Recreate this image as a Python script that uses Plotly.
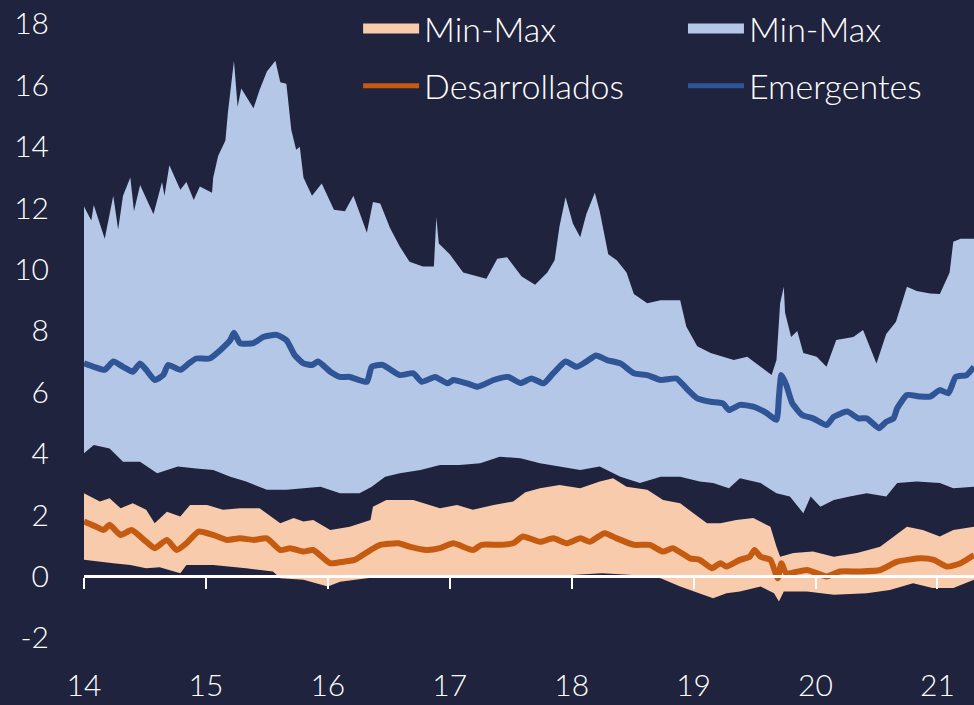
import plotly.graph_objects as go

# ---------------- data ----------------
em_max_x = [14.00, 14.06, 14.08, 14.17, 14.24, 14.28, 14.32, 14.38, 14.41, 14.46, 14.57, 14.64, 14.66, 14.70,
            14.79, 14.84, 14.90, 14.95, 15.05, 15.06, 15.10, 15.16, 15.18, 15.23, 15.26, 15.29, 15.39, 15.44,
            15.50, 15.57, 15.61, 15.66, 15.70, 15.74, 15.77, 15.80, 15.87, 15.95, 16.05, 16.14, 16.21, 16.32,
            16.37, 16.43, 16.51, 16.59, 16.67, 16.78, 16.87, 16.89, 16.91, 17.00, 17.11, 17.22, 17.30, 17.39,
            17.47, 17.59, 17.70, 17.80, 17.86, 17.90, 17.95, 18.01, 18.07, 18.12, 18.19, 18.23, 18.30, 18.37,
            18.45, 18.51, 18.62, 18.73, 18.89, 18.94, 19.03, 19.14, 19.33, 19.44, 19.55, 19.64, 19.68, 19.71,
            19.74, 19.75, 19.80, 19.85, 19.90, 20.01, 20.09, 20.17, 20.31, 20.39, 20.50, 20.58, 20.66, 20.75,
            20.83, 20.94, 21.02, 21.10, 21.13, 21.19, 21.30]
em_max_y = [12.05, 11.6, 12.1, 11.0, 12.4, 11.3, 12.4, 13.0, 11.9, 12.75, 11.8, 12.85, 12.4, 13.4,
            12.6, 12.85, 12.26, 12.7, 12.5, 13.0, 13.7, 14.2, 15.1, 16.8, 15.3, 15.9, 15.25, 15.85,
            16.45, 16.8, 16.1, 16.05, 14.55, 13.9, 14.0, 13.0, 12.4, 12.8, 11.95, 11.9, 12.4, 11.2,
            12.2, 12.15, 11.35, 10.75, 10.25, 10.1, 10.1, 11.7, 10.85, 10.5, 9.9, 9.77, 9.7, 10.35,
            10.4, 9.77, 9.5, 9.9, 10.3, 11.4, 12.35, 11.5, 11.05, 11.8, 12.5, 11.9, 10.5, 10.3,
            9.9, 9.2, 8.9, 9.0, 9.0, 8.14, 7.5, 7.28, 7.05, 7.16, 6.83, 6.56, 7.05, 8.9,
            9.44, 8.6, 7.8, 8.0, 7.28, 7.16, 6.83, 7.7, 7.8, 8.03, 6.94, 7.9, 8.3, 9.44,
            9.3, 9.22, 9.2, 9.9, 10.9, 11.0, 11.0]

em_min_x = [14.00, 14.08, 14.21, 14.32, 14.46, 14.60, 14.77, 14.92, 15.06, 15.20, 15.33, 15.50, 15.66, 15.80,
            15.94, 16.10, 16.26, 16.36, 16.47, 16.59, 16.76, 16.92, 17.08, 17.25, 17.41, 17.58, 17.74, 17.90,
            18.07, 18.23, 18.40, 18.56, 18.73, 18.89, 19.05, 19.16, 19.29, 19.38, 19.55, 19.68, 19.79, 19.90,
            19.96, 20.04, 20.15, 20.28, 20.42, 20.58, 20.67, 20.83, 21.02, 21.13, 21.30]
em_min_y = [4.01, 4.28, 4.17, 3.74, 3.74, 3.36, 3.58, 3.52, 3.47, 3.25, 3.09, 2.82, 2.82, 2.87,
            2.92, 2.71, 2.71, 2.92, 3.25, 3.36, 3.47, 3.63, 3.63, 3.69, 3.9, 3.85, 3.69, 3.58,
            3.47, 3.58, 3.25, 3.04, 3.25, 3.25, 3.09, 3.04, 2.87, 3.2, 3.04, 2.71, 2.6, 2.06,
            2.6, 2.27, 2.49, 2.6, 2.71, 2.6, 3.04, 3.09, 3.04, 2.87, 2.92]

em_x = [14.00, 14.08, 14.17, 14.24, 14.32, 14.40, 14.46, 14.51, 14.58, 14.65, 14.69, 14.79, 14.86, 14.92,
        15.03, 15.12, 15.20, 15.23, 15.28, 15.39, 15.47, 15.58, 15.66, 15.73, 15.80, 15.87, 15.92, 16.02,
        16.10, 16.18, 16.32, 16.36, 16.45, 16.59, 16.70, 16.77, 16.88, 16.98, 17.03, 17.14, 17.23, 17.36,
        17.48, 17.58, 17.67, 17.77, 17.85, 17.95, 18.04, 18.12, 18.20, 18.29, 18.40, 18.51, 18.62, 18.73,
        18.86, 18.94, 19.03, 19.14, 19.24, 19.29, 19.38, 19.49, 19.60, 19.68, 19.70, 19.72, 19.76, 19.81,
        19.89, 19.98, 20.09, 20.15, 20.26, 20.35, 20.42, 20.52, 20.58, 20.64, 20.67, 20.75, 20.86, 20.94,
        21.02, 21.09, 21.15, 21.24, 21.30]
em_y = [6.94, 6.83, 6.73, 7.0, 6.83, 6.67, 6.94, 6.73, 6.4, 6.56, 6.89, 6.73, 6.94, 7.1,
        7.1, 7.38, 7.7, 7.94, 7.6, 7.6, 7.8, 7.87, 7.7, 7.2, 6.94, 6.89, 7.0, 6.67,
        6.5, 6.5, 6.34, 6.83, 6.89, 6.56, 6.62, 6.34, 6.5, 6.29, 6.4, 6.29, 6.18, 6.4,
        6.5, 6.3, 6.45, 6.29, 6.62, 7.0, 6.83, 7.0, 7.2, 7.05, 6.94, 6.62, 6.56, 6.4,
        6.45, 6.13, 5.8, 5.69, 5.64, 5.42, 5.59, 5.53, 5.32, 5.1, 5.86, 6.56, 6.24, 5.64,
        5.26, 5.15, 4.93, 5.2, 5.37, 5.15, 5.15, 4.83, 5.04, 5.15, 5.48, 5.91, 5.86, 5.86,
        6.07, 5.97, 6.5, 6.56, 6.83]

dm_max_x = [14.00, 14.13, 14.21, 14.30, 14.40, 14.51, 14.58, 14.68, 14.79, 14.87, 15.01, 15.14, 15.28, 15.44,
            15.61, 15.72, 15.80, 15.88, 16.02, 16.18, 16.35, 16.37, 16.48, 16.70, 16.92, 17.06, 17.19, 17.36,
            17.52, 17.62, 17.74, 17.90, 18.07, 18.23, 18.34, 18.45, 18.62, 18.75, 18.89, 19.00, 19.11, 19.22,
            19.35, 19.49, 19.63, 19.68, 19.71, 19.82, 19.98, 20.15, 20.34, 20.53, 20.64, 20.75, 20.88, 21.02,
            21.13, 21.30]
dm_max_y = [2.71, 2.44, 2.55, 2.22, 2.38, 2.17, 1.73, 2.11, 1.95, 2.33, 2.33, 2.17, 2.22, 2.22,
            1.73, 1.9, 1.79, 1.84, 1.51, 1.62, 1.84, 2.27, 2.49, 2.49, 2.22, 2.33, 2.17, 2.33,
            2.44, 2.74, 2.87, 2.98, 2.87, 3.09, 3.2, 2.92, 2.82, 2.49, 2.38, 2.06, 1.73, 1.73,
            1.84, 1.9, 1.62, 0.97, 0.64, 0.76, 0.81, 0.64, 0.76, 0.97, 1.3, 1.62, 1.51, 1.3,
            1.51, 1.62]

dm_min_x = [14.00, 14.24, 14.38, 14.51, 14.62, 14.79, 14.84, 15.06, 15.33, 15.55, 15.61, 15.80, 16.00, 16.10,
            16.32, 16.60, 17.00, 17.50, 18.00, 18.25, 18.50, 18.73, 18.89, 19.05, 19.16, 19.27, 19.38, 19.55,
            19.66, 19.70, 19.74, 19.93, 20.15, 20.42, 20.61, 20.80, 20.96, 21.13, 21.30]
dm_min_y = [0.54, 0.43, 0.37, 0.27, 0.3, 0.1, 0.37, 0.37, 0.27, 0.16, -0.06, -0.11, -0.33, -0.17,
            -0.06, 0.03, 0.02, 0.05, 0.05, 0.1, 0.05, -0.06, -0.33, -0.55, -0.71, -0.55, -0.49, -0.33,
            -0.55, -0.82, -0.49, -0.49, -0.6, -0.55, -0.44, -0.22, -0.38, -0.38, -0.11]

dm_x = [14.00, 14.10, 14.16, 14.21, 14.30, 14.39, 14.51, 14.58, 14.68, 14.76, 14.84, 14.94, 15.06, 15.17,
        15.28, 15.39, 15.50, 15.61, 15.69, 15.80, 15.88, 16.02, 16.13, 16.22, 16.35, 16.43, 16.58, 16.67,
        16.81, 16.92, 17.03, 17.19, 17.26, 17.41, 17.52, 17.60, 17.74, 17.85, 17.96, 18.07, 18.15, 18.27,
        18.37, 18.51, 18.64, 18.75, 18.83, 18.97, 19.05, 19.15, 19.22, 19.27, 19.38, 19.46, 19.50, 19.55,
        19.63, 19.69, 19.72, 19.76, 19.93, 20.09, 20.20, 20.37, 20.53, 20.67, 20.86, 20.97, 21.08, 21.19,
        21.30]
dm_y = [1.79, 1.62, 1.51, 1.68, 1.35, 1.51, 1.13, 0.92, 1.19, 0.86, 1.08, 1.46, 1.35, 1.19,
        1.24, 1.19, 1.24, 0.86, 0.92, 0.81, 0.86, 0.43, 0.48, 0.54, 0.86, 1.03, 1.08, 0.97,
        0.86, 0.92, 1.08, 0.86, 1.03, 1.03, 1.08, 1.3, 1.13, 1.24, 1.08, 1.24, 1.13, 1.41,
        1.24, 1.03, 1.03, 0.81, 0.92, 0.59, 0.54, 0.27, 0.43, 0.32, 0.54, 0.64, 0.86, 0.64,
        0.54, -0.06, 0.43, 0.1, 0.21, 0.0, 0.16, 0.16, 0.21, 0.48, 0.59, 0.54, 0.32, 0.43,
        0.7]

x_tick_vals = [14, 15, 16, 17, 18, 19, 20, 21]
x_tick_text = ["14", "15", "16", "17", "18", "19", "20", "21"]
y_tick_vals = [-2, 0, 2, 4, 6, 8, 10, 12, 14, 16, 18]
y_tick_text = ["-2", "0", "2", "4", "6", "8", "10", "12", "14", "16", "18"]

# ---------------- style ----------------
BG = "#1f233d"
EM_FILL = "#b4c7e7"
DM_FILL = "#f8cbad"
EM_LINE = "#2f5597"
DM_LINE = "#c55a11"
FONT = "Lato"
X_RANGE = [14, 21.30]
Y_RANGE = [-2.56, 18.78]
TICK_FONT = dict(family=FONT, size=30, color="white", weight=300)
LEG_FONT = dict(family=FONT, size=34, color="white", weight=300)

fig = go.Figure()

# range bands (polygon built from max series + reversed min series)
fig.add_trace(go.Scatter(
    x=em_max_x + em_min_x[::-1], y=em_max_y + em_min_y[::-1],
    fill="toself", fillcolor=EM_FILL, line=dict(width=0), mode="lines",
    showlegend=False, hoverinfo="skip"))
fig.add_trace(go.Scatter(
    x=dm_max_x + dm_min_x[::-1], y=dm_max_y + dm_min_y[::-1],
    fill="toself", fillcolor=DM_FILL, line=dict(width=0), mode="lines",
    showlegend=False, hoverinfo="skip"))
fig.add_trace(go.Scatter(
    x=dm_x, y=dm_y, mode="lines",
    line=dict(color=DM_LINE, width=6, shape="spline", smoothing=0.5),
    showlegend=False))
fig.add_trace(go.Scatter(
    x=em_x, y=em_y, mode="lines",
    line=dict(color=EM_LINE, width=6, shape="spline", smoothing=0.5),
    showlegend=False))

# legend entries (swatches only, no data) - attached to the zero-line axis x2
fig.add_trace(go.Scatter(x=[None], y=[None], mode="lines", name="Min-Max",
                         line=dict(color=DM_FILL, width=20), xaxis="x2",
                         legend="legend", legendgroup="g1"))
fig.add_trace(go.Scatter(x=[None], y=[None], mode="lines", name="Desarrollados",
                         line=dict(color=DM_LINE, width=5), xaxis="x2",
                         legend="legend", legendgroup="g2"))
fig.add_trace(go.Scatter(x=[None], y=[None], mode="lines", name="Min-Max",
                         line=dict(color=EM_FILL, width=20), xaxis="x2",
                         legend="legend2", legendgroup="g3"))
fig.add_trace(go.Scatter(x=[None], y=[None], mode="lines", name="Emergentes",
                         line=dict(color=EM_LINE, width=5), xaxis="x2",
                         legend="legend2", legendgroup="g4"))

legend_common = dict(
    y=1.0, yanchor="top", xanchor="left", bgcolor="rgba(0,0,0,0)",
    font=LEG_FONT, traceorder="grouped", tracegroupgap=10, itemwidth=56)

zero_pos = (0 - Y_RANGE[0]) / (Y_RANGE[1] - Y_RANGE[0])

fig.update_layout(
    width=974, height=705,
    margin=dict(l=84, r=0, t=0, b=50),
    paper_bgcolor=BG, plot_bgcolor=BG,
    font=TICK_FONT,
    showlegend=True,
    legend=dict(x=0.308, **legend_common),
    legend2=dict(x=0.673, **legend_common),
    xaxis=dict(range=X_RANGE, tickvals=x_tick_vals, ticktext=x_tick_text,
               showgrid=False, zeroline=False, showline=False, ticks="",
               ticklabelstandoff=10, tickfont=TICK_FONT),
    xaxis2=dict(range=X_RANGE, overlaying="x", anchor="free", position=zero_pos,
                side="bottom", tickvals=x_tick_vals, showticklabels=False,
                showgrid=False, zeroline=False, showline=True, linecolor="white",
                linewidth=3, ticks="outside", ticklen=11, tickwidth=2,
                tickcolor="white", layer="above traces"),
    yaxis=dict(range=Y_RANGE, tickvals=y_tick_vals, ticktext=y_tick_text,
               showgrid=False, zeroline=False, showline=False, ticks="",
               ticklabelstandoff=34, tickfont=TICK_FONT),
)

fig.write_html("out.html", config={"displayModeBar": False},
               post_script="document.body.style.margin='0px';")
